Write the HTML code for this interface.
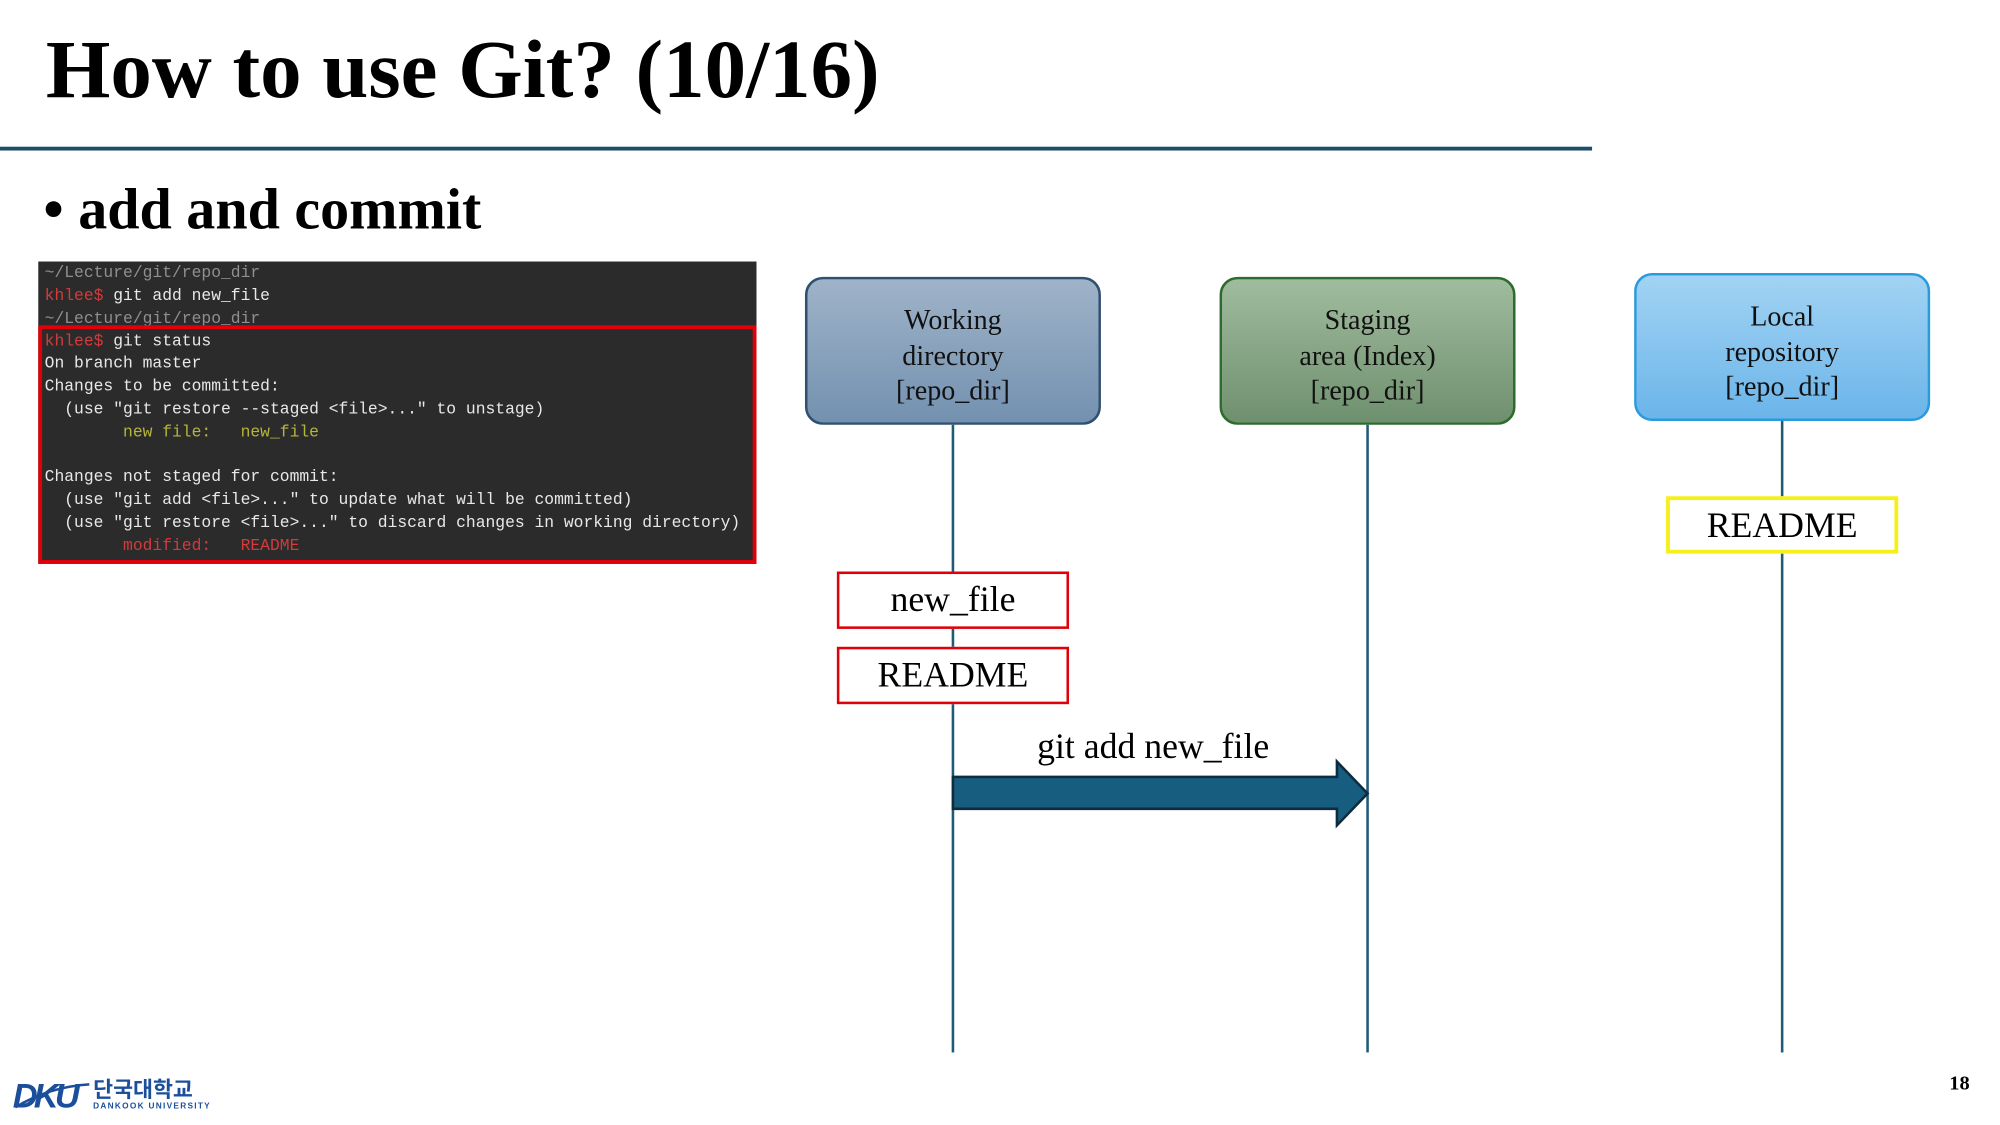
<!DOCTYPE html>
<html><head><meta charset="utf-8"><style>
html,body{margin:0;padding:0;background:#fff;overflow:hidden}
#w{width:2000px;height:1125px;position:relative;overflow:hidden}
#s{position:absolute;left:0;top:0;width:1568px;height:882px;transform:scale(1.2757);transform-origin:0 0;font-family:"Liberation Serif",serif}
.a{position:absolute}
.term{left:30px;top:205px;width:563px;height:237px;background:#2b2b2b;font-family:"Liberation Mono",monospace;font-size:12.8px;color:#e8e8e8;letter-spacing:0}
.term div{position:absolute;left:5px;white-space:pre;line-height:16px}
.g{color:#8f8f8f}.r{color:#d43a3a}.y{color:#b5b53a}
.box{position:absolute;width:232px;height:116px;border-radius:14px;text-align:center;font-size:22px;line-height:27.5px;box-sizing:border-box;padding-top:18px;color:#111}
.vl{position:absolute;width:2px;background:#1f5a78}
.fb{position:absolute;width:182px;height:45px;box-sizing:border-box;text-align:center;font-size:28px;line-height:42px;background:#fff}
</style></head><body><div id="w"><div id="s">
<div class="a" style="left:36px;top:17px;font-size:65px;font-weight:bold;line-height:76px">How to use Git? (10/16)</div>
<div class="a" style="left:0;top:115px;width:1248px;height:3px;background:#1d4e6a"></div>
<div class="a" style="left:34px;top:136px;font-size:45.5px;font-weight:bold;line-height:56px">•&nbsp;add and commit</div>

<div class="a term">
<div class="g" style="top:1px">~/Lecture/git/repo_dir</div>
<div style="top:19px"><span class="r">khlee$</span> git add new_file</div>
<div class="g" style="top:37px">~/Lecture/git/repo_dir</div>
<div style="top:55px"><span class="r">khlee$</span> git status</div>
<div style="top:72px">On branch master</div>
<div style="top:90px">Changes to be committed:</div>
<div style="top:108px">  (use "git restore --staged &lt;file&gt;..." to unstage)</div>
<div class="y" style="top:126px">        new file:   new_file</div>
<div style="top:161px">Changes not staged for commit:</div>
<div style="top:179px">  (use "git add &lt;file&gt;..." to update what will be committed)</div>
<div style="top:197px">  (use "git restore &lt;file&gt;..." to discard changes in working directory)</div>
<div class="r" style="top:215px">        modified:   README</div>
</div>
<div class="a" style="left:30px;top:255px;width:563px;height:187px;box-sizing:border-box;border:3px solid #e0000a"></div>

<div class="vl" style="left:746px;top:333px;height:492px"></div>
<div class="vl" style="left:1071px;top:333px;height:492px"></div>
<div class="vl" style="left:1396px;top:330px;height:495px"></div>

<div class="box" style="left:631px;top:217px;background:linear-gradient(#9fb3c8,#7391b0);border:2px solid #2f5070">Working<br>directory<br>[repo_dir]</div>
<div class="box" style="left:956px;top:217px;background:linear-gradient(#a0bc9e,#6f906e);border:2px solid #2e6b2e">Staging<br>area (Index)<br>[repo_dir]</div>
<div class="box" style="left:1281px;top:214px;background:linear-gradient(#a2d3f3,#6bb5ea);border:2px solid #2a9ade">Local<br>repository<br>[repo_dir]</div>

<div class="fb" style="left:656px;top:448px;border:2px solid #e0000a">new_file</div>
<div class="fb" style="left:656px;top:507px;border:2px solid #e0000a">README</div>
<div class="fb" style="left:1306px;top:389px;border:3px solid #f5f01a">README</div>

<div class="a" style="left:813px;top:568px;font-size:28px;line-height:36px">git add new_file</div>
<svg class="a" style="left:740px;top:590px" width="340" height="65"><polygon points="7,19 308,19 308,7 332,32 308,57 308,44 7,44" fill="#165d80" stroke="#0e2c3c" stroke-width="2"/></svg>

<div class="a" style="left:1528px;top:841px;font-size:16px;font-weight:bold">18</div>
<div class="a" style="left:10px;top:842px;font-family:'Liberation Sans',sans-serif;font-weight:bold;font-style:italic;font-size:27px;color:#1b4f9c;letter-spacing:-3px;line-height:34px">DKU</div>
<svg class="a" style="left:8px;top:846px" width="70" height="30"><path d="M4 22 Q30 6 62 4" stroke="#1b4f9c" stroke-width="2" fill="none"/></svg>
<div class="a" style="left:73px;top:845px;font-family:'Liberation Sans','Noto Sans CJK KR',sans-serif;font-weight:bold;font-size:17px;color:#1b4f9c;line-height:20px">단국대학교</div>
<div class="a" style="left:73px;top:864px;font-family:'Liberation Sans',sans-serif;font-weight:bold;font-size:6.5px;color:#1b4f9c;letter-spacing:1px">DANKOOK UNIVERSITY</div>
</div></div></body></html>
